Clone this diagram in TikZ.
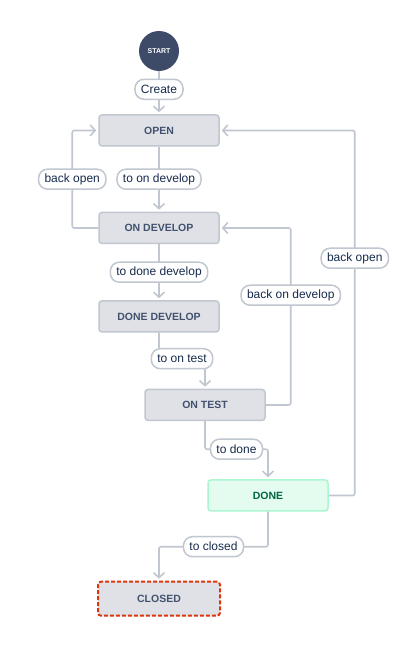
\documentclass[tikz,border=0pt]{standalone}
\usepackage{fontspec}
\setmainfont{Liberation Sans}
\definecolor{jira-line}{HTML}{C1C7D0}
\definecolor{jira-box}{HTML}{DFE1E6}
\definecolor{jira-text}{HTML}{42526E}
\definecolor{jira-label}{HTML}{172B4D}
\definecolor{jira-start}{HTML}{3D4B69}
\definecolor{jira-done}{HTML}{E3FCEF}
\definecolor{jira-doneline}{HTML}{ABF5D1}
\definecolor{jira-donetext}{HTML}{006644}
\definecolor{jira-closed}{HTML}{DE350B}
\usetikzlibrary{arrows.meta,positioning}

\begin{document}
\begin{tikzpicture}[
  state/.style={rectangle, rounded corners=3pt, draw=jira-line, line width=1.5pt, fill=jira-box,
                minimum width=120pt, minimum height=31pt, text=jira-text,
                font=\fontsize{10.5}{12}\selectfont\bfseries},
  donestate/.style={state, draw=jira-doneline, fill=jira-done, text=jira-donetext},
  closedstate/.style={state, draw=jira-closed, dash pattern=on 4pt off 2pt, line width=2pt,
                      minimum width=122pt, minimum height=34pt},
  startnode/.style={circle, fill=jira-start, minimum size=40pt, inner sep=0pt, text=white,
                    font=\fontsize{7}{8}\selectfont\bfseries},
  pill/.style={rectangle, rounded corners=9pt, draw=jira-line, line width=1.5pt, fill=white,
               minimum height=20pt, inner xsep=6pt, inner ysep=2pt, text=jira-label,
               font=\fontsize{12}{14}\selectfont},
  arr/.style={-{Straight Barb[length=5pt,width=11pt]}, line width=1.6pt, jira-line,
              rounded corners=2pt, shorten >=2pt}]

  \fill[white] (0,0) rectangle (409pt,-658pt);
  \useasboundingbox (0,0) rectangle (409pt,-658pt);

  \node[startnode] (start) at (159pt,-51pt) {START};
  \node[state, below=43pt of start] (open) {OPEN};
  \node[state, below=65pt of open] (ondev) {ON DEVELOP};
  \node[state, below=56pt of ondev] (donedev) {DONE DEVELOP};
  \node[state, below=56pt of donedev, xshift=46pt] (ontest) {ON TEST};
  \node[donestate, below=58pt of ontest, xshift=63pt] (done) {DONE};
  \node[closedstate, below=69pt of done, xshift=-109pt] (closed) {CLOSED};

  \draw[arr] (start) -- node[pill, pos=0.42]{Create} (open);
  \draw[arr] (open) -- node[pill]{to on develop} (ondev);
  \draw[arr] (ondev.west) -- ++(-26pt,0) |- node[pill, pos=0.25]{back open} (open.west);
  \draw[arr] (ondev) -- node[pill]{to done develop} (donedev);
  \draw[arr] (donedev.south) -- ++(0,-26pt) -| node[pill, pos=0.25]{to on test} (ontest.north);
  \draw[arr] (ontest.south) -- ++(0,-28pt) -| node[pill, pos=0.25]{to done} (done.north);
  \draw[arr] (ontest.east) -- ++(25pt,0) |- node[pill, pos=0.31]{back on develop} (ondev.east);
  \draw[arr] (done.east) -- ++(26pt,0) |- node[pill, pos=0.325]{back open} (open.east);
  \draw[arr] (done.south) -- ++(0,-35pt) -| node[pill, pos=0.25]{to closed} (closed.north);

\end{tikzpicture}
\end{document}
